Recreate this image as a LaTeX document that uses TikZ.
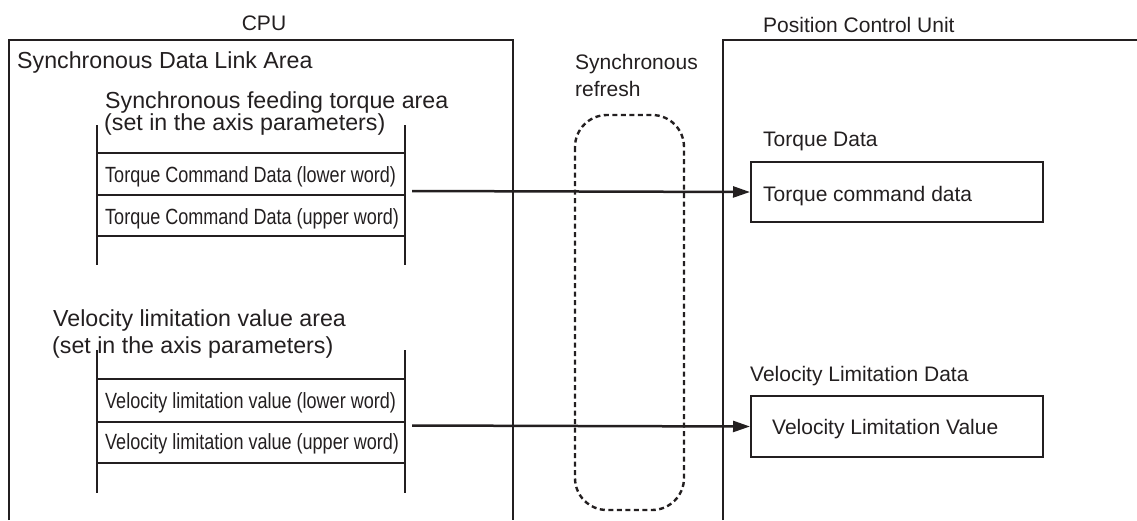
\documentclass[tikz,border=0pt]{standalone}
\usepackage{fontspec}
\setmainfont{Liberation Sans}
\newfontfamily\narrowfont{Liberation Sans}[FakeStretch=0.82]
\usetikzlibrary{arrows.meta}
\definecolor{ink}{HTML}{231F20}
\tikzset{
  lbl/.style={inner sep=0pt, anchor=base west, text=ink, font=\fontsize{21}{25}\selectfont},
  biglbl/.style={lbl, font=\fontsize{23.2}{27}\selectfont},
  lblc/.style={lbl, anchor=base},
  celltxt/.style={inner sep=0pt, anchor=base west, text=ink, font=\narrowfont\fontsize{22}{26}\selectfont},
  frame/.style={draw=ink, line width=2.5pt},
  cellline/.style={draw=ink, line width=1.7pt},
  cellside/.style={draw=ink, line width=2.4pt},
  databox/.style={draw=ink, line width=2pt, inner sep=0pt, anchor=north west},
  flow/.style={draw=ink, line width=2.5pt, -{Triangle[length=17pt,width=11pt]}},
  refresh/.style={draw=ink, line width=2.4pt, dash pattern=on 5pt off 3.5pt, rounded corners=32pt}
}
\begin{document}
\begin{tikzpicture}[x=1pt,y=-1pt]
\useasboundingbox (0,0) rectangle (1137,520);
% CPU frame
\draw[frame] (9,520) -- (9,40) -- (513,40) -- (513,520);
\node[lblc] (cpu) at (264,30) {CPU};
\node[biglbl] (sdla) at (17,68) {Synchronous Data Link Area};
% Position control unit frame
\draw[frame] (723,520) -- (723,40) -- (1137,40);
\node[lbl] (pcu) at (763,32) {Position Control Unit};
% Torque area
\node[biglbl] (tqt1) at (105,108) {Synchronous feeding torque area};
\node[biglbl] (tqt2) at (104,130) {(set in the axis parameters)};
\draw[cellside] (97,125) -- (97,265);
\draw[cellside] (405,125) -- (405,265);
\draw[cellline] (97,153) -- (405,153);
\draw[cellline] (97,195) -- (405,195);
\draw[cellline] (97,236) -- (405,236);
\node[celltxt] (tq1) at (105,182) {Torque Command Data (lower word)};
\node[celltxt] (tq2) at (105,224) {Torque Command Data (upper word)};
% Velocity area
\node[biglbl] (vlt1) at (53,326) {Velocity limitation value area};
\node[biglbl] (vlt2) at (52,353) {(set in the axis parameters)};
\draw[cellside] (97,350) -- (97,493);
\draw[cellside] (405,350) -- (405,493);
\draw[cellline] (97,379) -- (405,379);
\draw[cellline] (97,422) -- (405,422);
\draw[cellline] (97,463) -- (405,463);
\node[celltxt] (vl1) at (105,408) {Velocity limitation value (lower word)};
\node[celltxt] (vl2) at (105,449) {Velocity limitation value (upper word)};
% Synchronous refresh
\node[lbl] (sr1) at (575,69) {Synchronous};
\node[lbl] (sr2) at (575,96) {refresh};
\draw[refresh] (575,115) rectangle (684,510);
% Right side data
\node[lbl] (td) at (763,146) {Torque Data};
\node[databox, minimum width=292pt, minimum height=60pt] (tcbox) at (750,161) {};
\node[lbl] (tc) at (763,201) {Torque command data};
\node[lbl] (vld) at (750,381) {Velocity Limitation Data};
\node[databox, minimum width=292pt, minimum height=61pt] (vlbox) at (750,395) {};
\node[lbl] (vlv) at (772,434) {Velocity Limitation Value};
% Arrows
\coordinate (tstart) at (412,191);
\coordinate (vstart) at (412,425.5);
\draw[flow] (tstart) -- (tcbox.west);
\draw[flow] (vstart) -- (vlbox.west);
\end{tikzpicture}
\end{document}
